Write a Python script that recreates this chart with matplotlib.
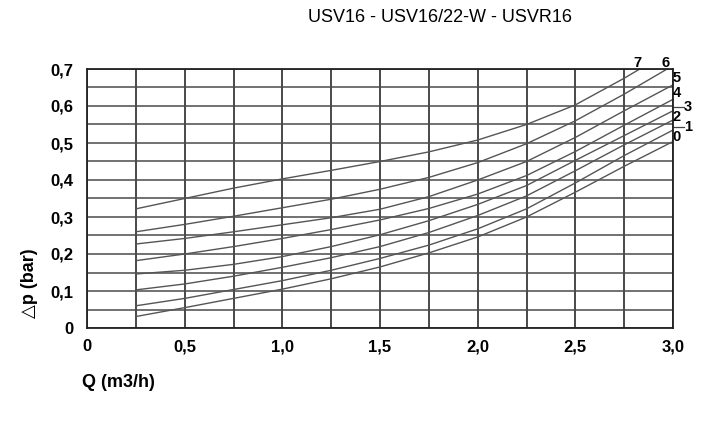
import matplotlib
matplotlib.use("Agg")
import matplotlib.pyplot as plt

plt.rcParams['font.family'] = ['Liberation Sans Narrow', 'Liberation Sans', 'DejaVu Sans']

title = "USV16 - USV16/22-W - USVR16"
xlabel = "Q (m3/h)"
ylabel = "△p (bar)"

xticks = [0, 0.5, 1.0, 1.5, 2.0, 2.5, 3.0]
xticklabels = ["0", "0,5", "1,0", "1,5", "2,0", "2,5", "3,0"]
yticks = [0, 0.1, 0.2, 0.3, 0.4, 0.5, 0.6, 0.7]
yticklabels = ["0", "0,1", "0,2", "0,3", "0,4", "0,5", "0,6", "0,7"]

Q = [0.25, 0.5, 0.75, 1.0, 1.25, 1.5, 1.75, 2.0, 2.25, 2.5, 2.75, 3.0]
c0 = [0.031, 0.055, 0.080, 0.105, 0.133, 0.165, 0.203, 0.246, 0.300, 0.367, 0.437, 0.504]
c1 = [0.060, 0.080, 0.104, 0.128, 0.156, 0.188, 0.224, 0.268, 0.322, 0.392, 0.466, 0.535]
c2 = [0.103, 0.119, 0.140, 0.164, 0.190, 0.220, 0.258, 0.304, 0.357, 0.425, 0.495, 0.562]
c3 = [0.146, 0.156, 0.172, 0.193, 0.220, 0.252, 0.290, 0.334, 0.385, 0.453, 0.520, 0.587]
c4 = [0.182, 0.200, 0.220, 0.242, 0.266, 0.292, 0.323, 0.362, 0.412, 0.477, 0.548, 0.618]
c5 = [0.227, 0.242, 0.260, 0.279, 0.298, 0.321, 0.355, 0.400, 0.450, 0.515, 0.587, 0.657]
Q6 = [0.25, 0.5, 0.75, 1.0, 1.25, 1.5, 1.75, 2.0, 2.25, 2.5, 2.75, 2.97]
c6 = [0.260, 0.280, 0.302, 0.325, 0.348, 0.375, 0.407, 0.447, 0.498, 0.560, 0.632, 0.700]
Q7 = [0.25, 0.5, 0.75, 1.0, 1.25, 1.5, 1.75, 2.0, 2.25, 2.5, 2.75, 2.83]
c7 = [0.322, 0.350, 0.378, 0.403, 0.426, 0.450, 0.476, 0.508, 0.550, 0.603, 0.675, 0.700]

curve_names = ["0", "1", "2", "3", "4", "5", "6", "7"]
curves_x = [Q, Q, Q, Q, Q, Q, Q6, Q7]
curves_y = [c0, c1, c2, c3, c4, c5, c6, c7]

fig = plt.figure(figsize=(7.1, 4.23), dpi=100)
ax = fig.add_axes([87/710, 1-328/423, (673-87)/710, (328-69)/423])

ax.set_xlim(0, 3.0)
ax.set_ylim(0, 0.7)

# grid
for i in range(13):
    ax.axvline(i * 0.25, color="#3a3a3a", lw=1.3, zorder=1)
for j in range(15):
    ax.axhline(j * 0.05, color="#4a4a4a", lw=1.1, zorder=1)

for xs, ys in zip(curves_x, curves_y):
    ax.plot(xs, ys, color="#555555", lw=1.0, zorder=2, clip_on=False)

for s in ax.spines.values():
    s.set_color("#222222")
    s.set_linewidth(1.3)

ax.set_xticks(xticks)
ax.set_xticklabels(xticklabels, fontsize=12, fontweight="bold")
ax.set_yticks(yticks)
ax.set_yticklabels(yticklabels, fontsize=12, fontweight="bold")
ax.tick_params(length=0, pad=10)
ax.tick_params(axis='x', pad=8)

# curve labels
lab_kw = dict(fontsize=10.5, fontweight="bold", va="center", ha="center")
ax.text(2.82, 0.717, "7", **lab_kw, clip_on=False)
ax.text(2.96, 0.717, "6", **lab_kw, clip_on=False)
ax.text(3.02, 0.676, "5", **lab_kw, clip_on=False)
ax.text(3.02, 0.636, "4", **lab_kw, clip_on=False)
ax.text(3.075, 0.596, "3", **lab_kw, clip_on=False)
ax.text(3.02, 0.571, "2", **lab_kw, clip_on=False)
ax.text(3.075, 0.543, "1", **lab_kw, clip_on=False)
ax.text(3.02, 0.516, "0", **lab_kw, clip_on=False)
ax.plot([3.0, 3.055], [0.596, 0.596], color="#444444", lw=0.9, clip_on=False)
ax.plot([3.0, 3.055], [0.543, 0.543], color="#444444", lw=0.9, clip_on=False)

fig.text(440/710, 1-18/423, title, fontsize=13, ha="center", va="center")
fig.text(118/710, 1-382/423, xlabel, fontsize=13, fontweight="bold", ha="center", va="center")
fig.text(30/710, 1-283/423, ylabel, fontsize=13, fontweight="bold", ha="center", va="center",
         rotation=90)

fig.savefig("out.png", dpi=100)
